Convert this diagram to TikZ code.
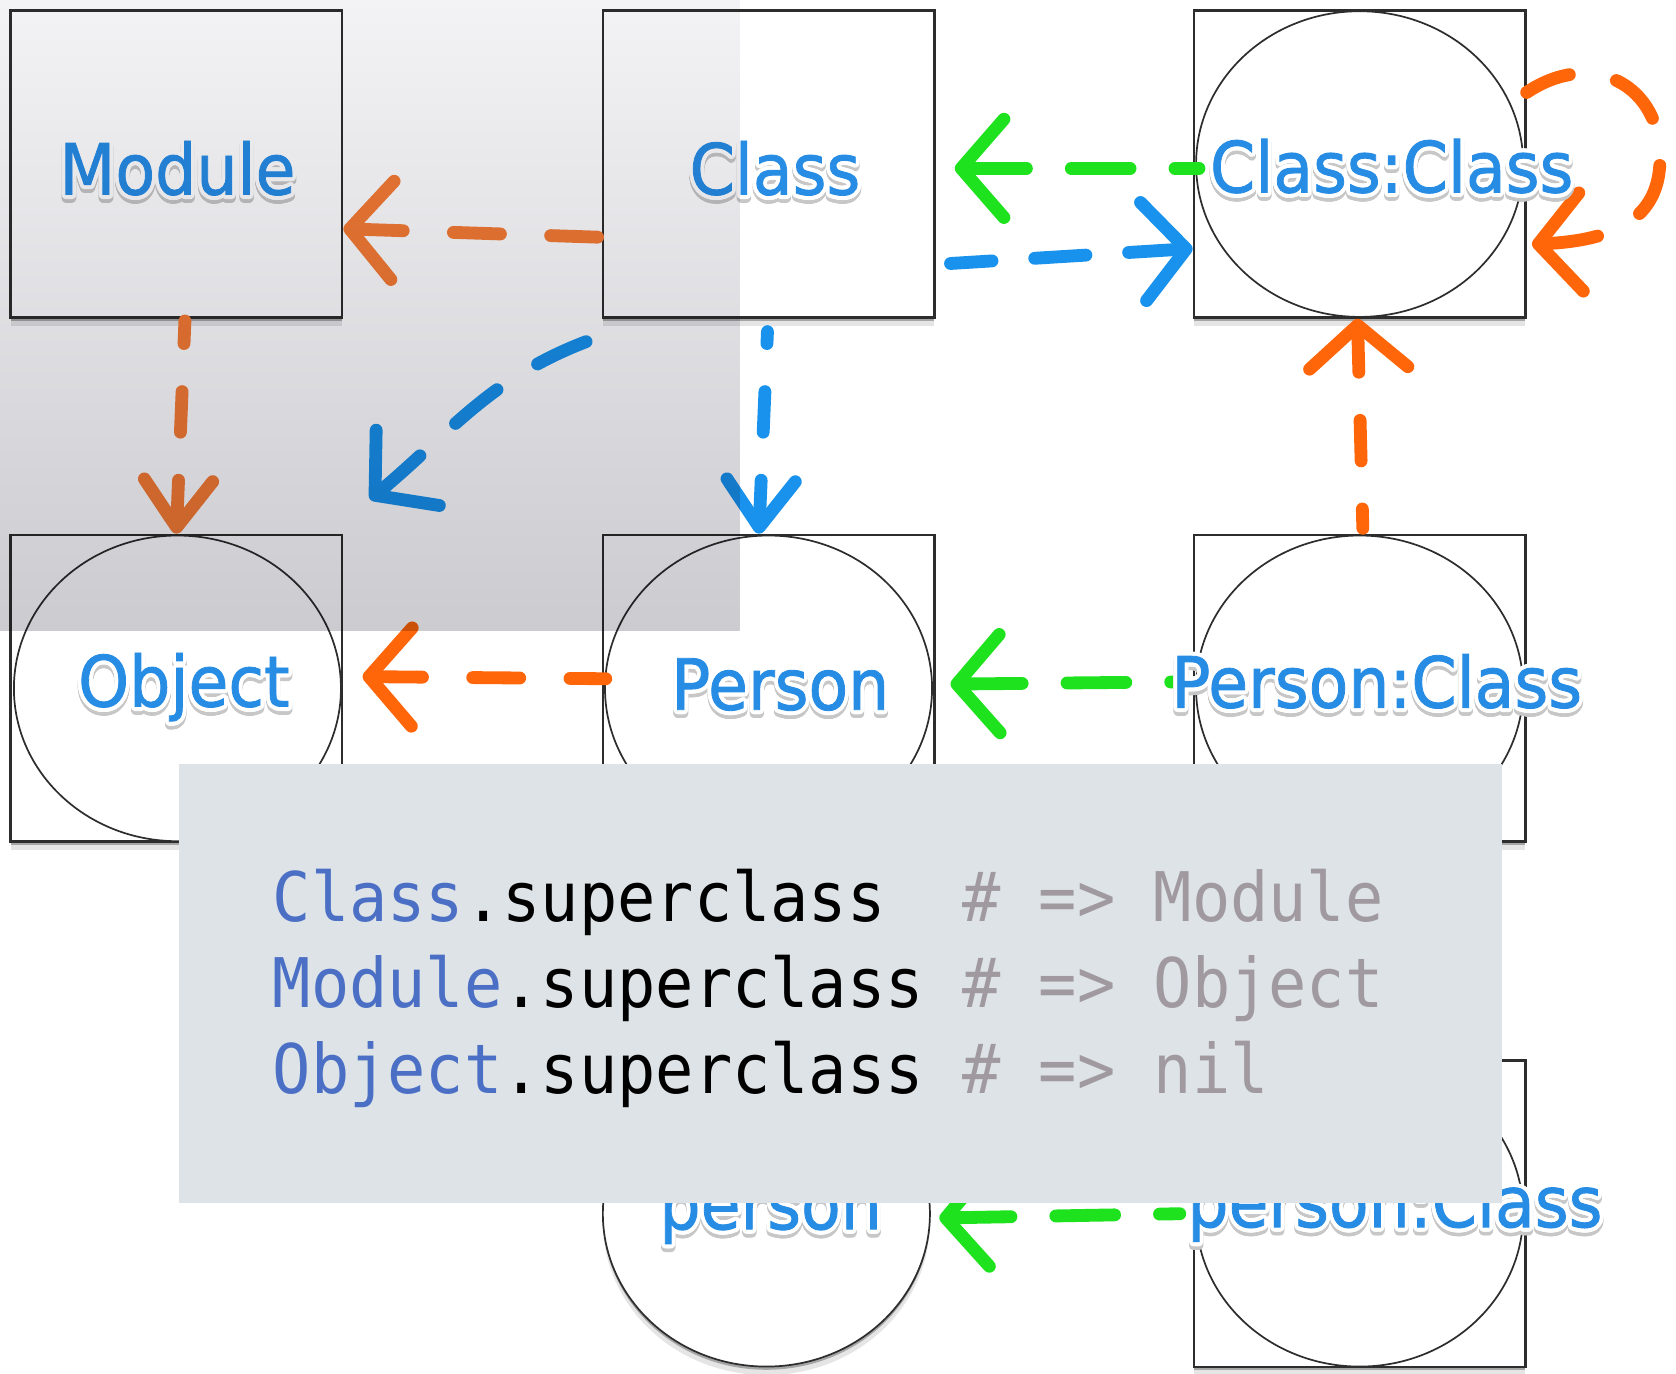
\documentclass[tikz,border=0pt]{standalone}
\usepackage{fontspec}
\usepackage{graphicx}
\usepackage[copies]{contour}
\usetikzlibrary{arrows.meta,shadows,shapes.geometric}

\newfontfamily\lblfont{DejaVu Sans}[FakeBold=1.2]
\newfontfamily\codefont{DejaVu Sans Mono}

\definecolor{lblblue}{RGB}{38,140,228}
\definecolor{arrorange}{RGB}{255,102,10}
\definecolor{softorange}{RGB}{247,124,54}
\definecolor{arrblue}{RGB}{24,146,236}
\definecolor{arrgreen}{RGB}{30,226,30}
\definecolor{codebg}{RGB}{221,227,231}
\definecolor{codeblue}{RGB}{74,111,196}
\definecolor{codegray}{RGB}{160,154,160}
\definecolor{frame}{RGB}{45,45,45}
\definecolor{veiltop}{RGB}{243,243,245}
\definecolor{veilbot}{RGB}{203,203,208}

% blue label with a white halo and a soft grey drop shadow
\newcommand\glowlbl[1]{{\lblfont\fontsize{66}{70}\selectfont\contournumber{24}%
  \scalebox{0.92}[1]{%
    \rlap{\raisebox{-3.5pt}{\color{black!22}\contourlength{3.8pt}\contour{black!22}{#1}}}%
    {\color{lblblue}\contourlength{3.8pt}\contour{white}{#1}}}}}

% one line of Ruby: receiver, message, result comment
\newcommand\codetxt[3]{\scalebox{0.93}[1]{\codefont\fontsize{64}{80}\selectfont
  \textcolor{codeblue}{#1}#2\textcolor{codegray}{\#\ =>\ #3}}}

\begin{document}
\begin{tikzpicture}[x=1pt,y=-1pt,
  softshadow/.style={general shadow={shadow yshift=-3pt, fill=black, opacity=.28},
                     general shadow={shadow yshift=-8pt, fill=black, opacity=.10}},
  box/.style={rectangle, draw=frame, line width=2.5pt, fill=white,
              minimum width=310pt, minimum height=287pt, inner sep=0pt, softshadow},
  ell/.style={ellipse, draw=frame, line width=1.6pt, fill=white,
              minimum width=306pt, minimum height=286pt, inner sep=0pt},
  lbl/.style={inner sep=0pt, anchor=base},
  conn/.style={line width=12pt, line cap=round, line join=round,
               arrows={Straight Barb[length=40pt,width=92pt,round]-}},
  connS/.style={line width=12pt, line cap=round, line join=round,
               arrows={Straight Barb[length=44pt,width=64pt,round]-}},
  dA/.style={dash pattern=on 44pt off 47pt},
  dB/.style={dash pattern=on 38pt off 45pt},
  dC/.style={dash pattern=on 50pt off 45pt},
  dE/.style={dash pattern=on 48pt off 40pt},
  dF/.style={dash pattern=on 55pt off 42pt},
  codeline/.style={inner sep=0pt, anchor=base west}]

\fill[white] (0,0) rectangle (1568,1285);
\useasboundingbox (0,0) rectangle (1568,1285);

% class boxes, first row
\node[box] (Module) at (165,153.5) {};
\node[box] (Class)  at (719,153.5) {};
\node[box] (ClassC) at (1272,153.5) {};
\node[ell] (ClassC-e) at (1272,153.5) {};

% second row
\node[box] (Object)  at (165,644) {};
\node[ell] (Object-e) at (166,644) {};
\node[box] (Person)  at (719,644) {};
\node[ell] (Person-e) at (719,644) {};
\node[box] (PersonC) at (1272,644) {};
\node[ell] (PersonC-e) at (1272,644) {};

% third row: the instance and its singleton class
\node[ell, softshadow] (person) at (717,1135.5) {};
\node[box] (personC) at (1272,1135.5) {};
\node[ell] (personC-e) at (1272,1135.5) {};

% superclass links (orange)
\draw[conn, dA, softorange] ([yshift=-60.5pt]Module.east) -- ([yshift=-68.5pt]Class.west);
\draw[connS, dB, softorange] (Object.north) -- ([xshift=8pt,yshift=-2pt]Module.south);
\draw[conn, dA, arrorange] ([xshift=18pt,yshift=11pt]Object.east) -- ([xshift=4pt,yshift=9pt]Person.west);
\draw[conn, dB, arrorange] ([xshift=-2pt]ClassC.south) -- ([xshift=3pt,yshift=5pt]PersonC.north);
\draw[conn, dC, arrorange] ([xshift=5pt,yshift=-75pt]ClassC.east)
   .. controls (1510,225) and (1552,205) .. (1553,150)
   .. controls (1555,80) and (1490,45) .. ([yshift=67pt]ClassC.east);

% class-of links (blue)
\draw[conn, dC, arrblue] ([xshift=25pt,yshift=32pt]Object.north east)
   to[out=40,in=200] ([xshift=-8pt,yshift=-19pt]Class.south west);
\draw[connS, dB, arrblue] ([xshift=-9pt]Person.north) -- ([xshift=-1pt,yshift=-12pt]Class.south);
\draw[conn, dE, arrblue] ([yshift=-79pt]ClassC.west) -- ([xshift=14pt,yshift=-93pt]Class.east);

% singleton-class links (green)
\draw[conn, dF, arrgreen] ([xshift=18pt,yshift=-4pt]Class.east) -- ([xshift=6pt,yshift=-4pt]ClassC.west);
\draw[conn, dF, arrgreen] ([xshift=14pt,yshift=4pt]Person.east) -- ([xshift=-17pt,yshift=6pt]PersonC.west);
\draw[conn, dF, arrgreen] ([xshift=8pt,yshift=-4pt]person.east) -- ([xshift=-12pt]personC.west);

% labels
\node[lbl] (Module-l)  at (166,182)  {\glowlbl{Module}};
\node[lbl] (Class-l)   at (725,182)  {\glowlbl{Class}};
\node[lbl] (ClassC-l)  at (1302,180) {\glowlbl{Class:Class}};
\node[lbl] (Object-l)  at (172,661)  {\glowlbl{Object}};
\node[lbl] (Person-l)  at (730,664)  {\glowlbl{Person}};
\node[lbl] (PersonC-l) at (1288,662) {\glowlbl{Person:Class}};
\node[lbl] (person-l)  at (721,1150) {\glowlbl{person}};
\node[lbl] (personC-l) at (1305,1148) {\glowlbl{person:Class}};

% grey veil darkening the upper left corner
\begin{scope}[blend mode=multiply]
  \shade[top color=veiltop, bottom color=veilbot] (0,0) rectangle (692,590);
\end{scope}

% code panel
\node[fill=codebg, inner sep=0pt, minimum width=1238pt, minimum height=410pt,
      anchor=north west] (codebox) at (167,715) {};
\node[codeline] (line1) at (255,862)  {\codetxt{Class}{.superclass\ \ }{Module}};
\node[codeline] (line2) at (255,943)  {\codetxt{Module}{.superclass\ }{Object}};
\node[codeline] (line3) at (255,1023) {\codetxt{Object}{.superclass\ }{nil}};
\end{tikzpicture}
\end{document}
